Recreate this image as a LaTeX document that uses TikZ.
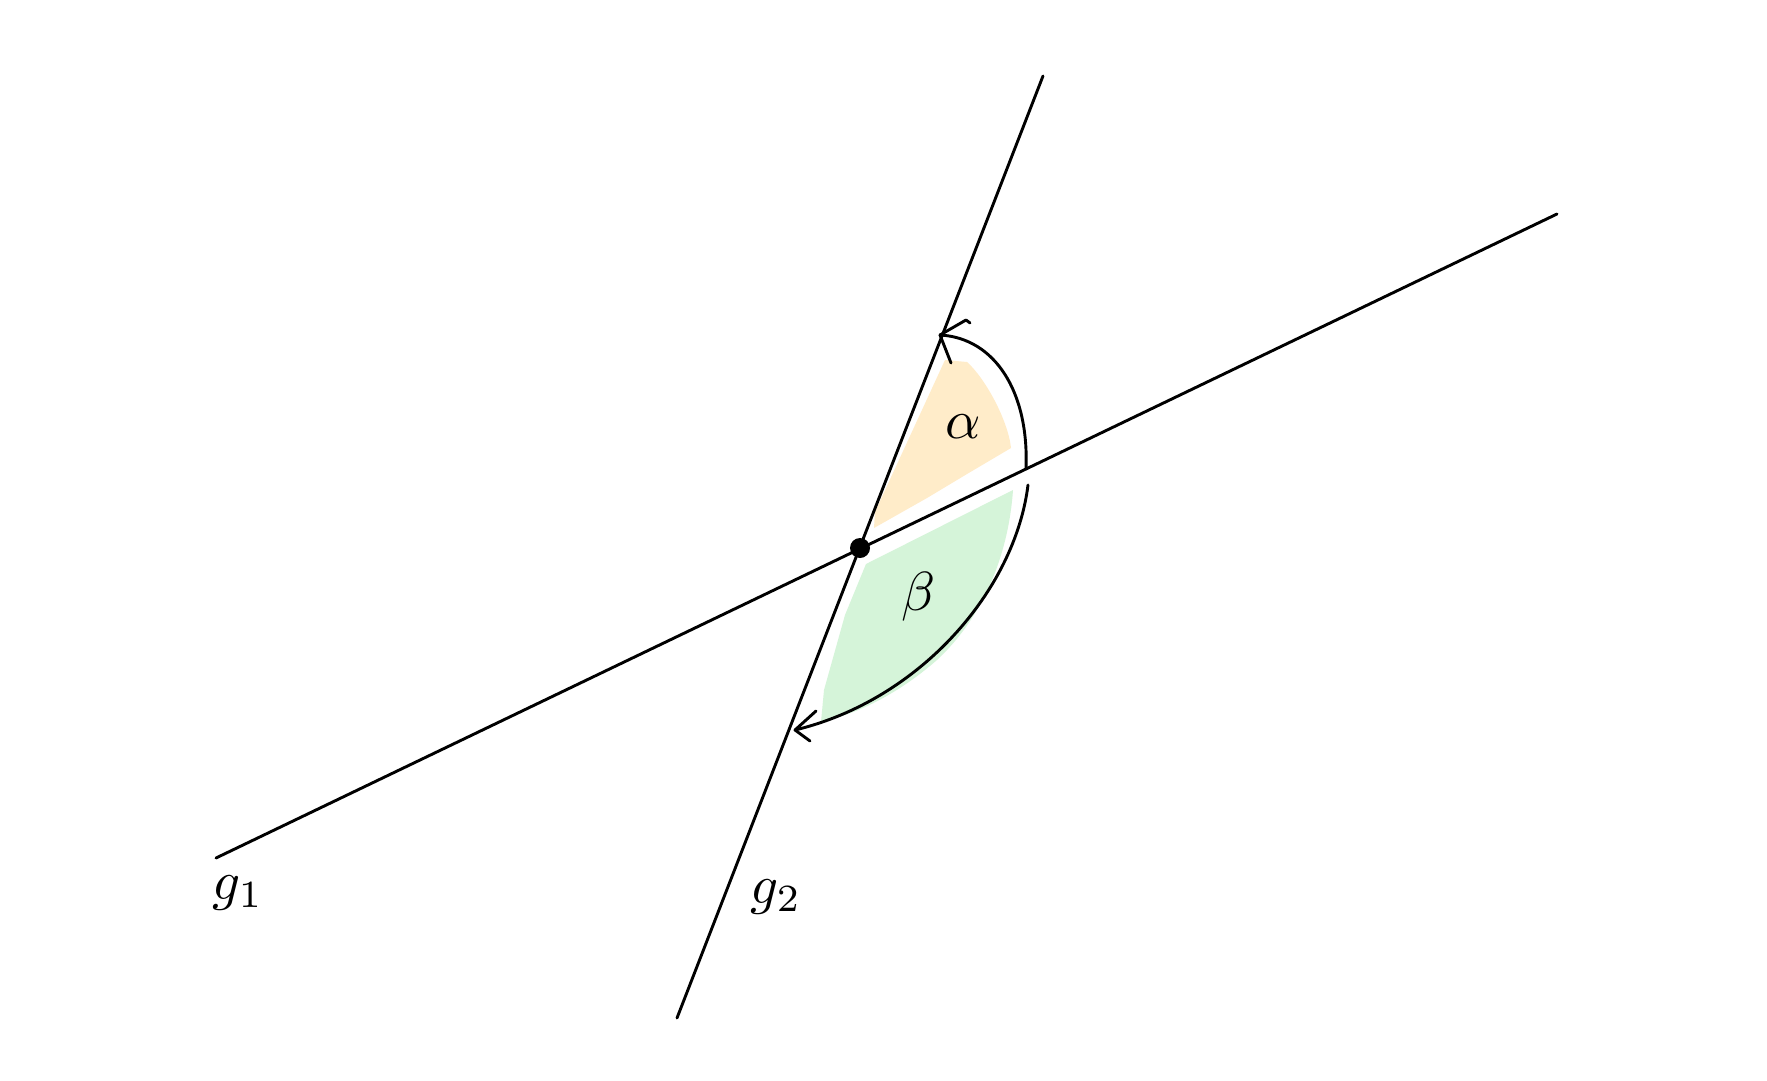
\documentclass[tikz,border=0pt]{standalone}
\usetikzlibrary{calc}
\definecolor{alphafill}{HTML}{FFECC9}
\definecolor{betafill}{HTML}{D5F4D9}
\tikzset{
  stroke/.style={line width=2.9pt, line cap=round, line join=round, black},
  lbl/.style={inner sep=0pt, scale=5.5}
}
\begin{document}
\begin{tikzpicture}[x=1pt,y=-1pt]
\useasboundingbox[fill=white] (0,0) rectangle (1767,1081);
% coordinates
\coordinate (g1a) at (216,858);
\coordinate (g1b) at (1557,214);
\coordinate (g2a) at (1043,76);
\coordinate (g2b) at (677,1018);
\coordinate (P) at (860,548);
\coordinate (aS) at (1026,468);
\coordinate (aE) at (940,335);
\coordinate (bS) at (1028,485);
\coordinate (bE) at (795,730);
% fills
\fill[alphafill] (874,528) -- (875,512) -- (945,360) -- (967,362)
  .. controls (985,378) and (1008,420) .. (1011,448)
  -- (967,474) -- (927,498) -- cycle;
\fill[betafill] (866,564) -- (1013,490)
  .. controls (1008,560) and (980,620) .. (937,660)
  .. controls (905,688) and (865,712) .. (821,722)
  -- (824,690) -- (845,615) -- cycle;
% lines
\draw[stroke] (g1a) -- (g1b);
\draw[stroke] (g2a) -- (g2b);
\fill (P) circle (10);
% alpha arc
\draw[stroke] (aS) .. controls (1029,392) and (995,338) .. (aE);
\draw[stroke] (aE) -- (966,320) -- (970,323);
\draw[stroke] (aE) -- (951,363);
% beta arc
\draw[stroke] (bS) .. controls (1015,590) and (920,700) .. (bE);
\draw[stroke] (bE) -- (816,711);
\draw[stroke] (bE) -- (810,741);
% labels
\node[lbl] (alpha) at (963,427) {$\alpha$};
\node[lbl] (beta) at (918,597) {$\beta$};
\node[lbl] (g1) at (238,893) {$g_1$};
\node[lbl] (g2) at (776,897) {$g_2$};
\end{tikzpicture}
\end{document}
